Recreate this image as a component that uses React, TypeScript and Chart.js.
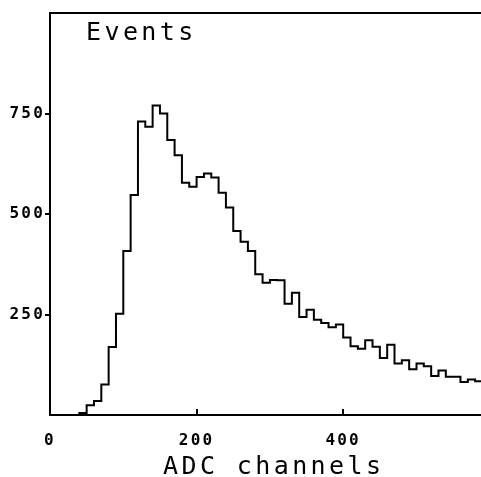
import { useEffect, useRef } from "react";
import { Chart, registerables } from "chart.js";

Chart.register(...registerables);

// Histogram of ADC channel counts, 10 channels per bin starting at channel 0
const BIN_WIDTH = 10;
const binCounts = [
  0, 0, 0, 0, 5, 24, 35, 76, 169, 252,
  408, 547, 730, 717, 770, 750, 684, 646, 578, 568,
  592, 601, 591, 553, 516, 458, 431, 408, 350, 329,
  336, 335, 277, 304, 244, 262, 237, 229, 218, 225,
  193, 171, 165, 186, 170, 142, 175, 128, 136, 114,
  128, 121, 97, 111, 95, 95, 82, 88, 84,
];

const xTickValues = [0, 200, 400];
const yTickValues = [250, 500, 750];
const X_MAX = 588;
const Y_MAX = 1000;

const yCaption = "Events";
const xCaption = "ADC channels";

const WIDTH = 481;
const HEIGHT = 477;

const TICK_FONT = { family: '"DejaVu Sans Mono", monospace', size: 16, weight: "bold" as const };
const CAPTION_FONT = '25px "DejaVu Sans Mono", monospace';

// Step outline: each bin's left edge carries its count, the last edge closes the final bin
function histogramPoints() {
  const pts = binCounts.map((c, i) => ({ x: i * BIN_WIDTH, y: c }));
  pts.push({ x: binCounts.length * BIN_WIDTH, y: binCounts[binCounts.length - 1] });
  return pts;
}

const plotterStyle = {
  id: "plotterStyle",
  beforeDraw(chart: Chart) {
    (chart.ctx as any).letterSpacing = "2.2px";
  },
  afterDraw(chart: Chart) {
    const { ctx, chartArea } = chart;
    const xScale = chart.scales.x;
    ctx.save();
    (ctx as any).letterSpacing = "0px";
    ctx.strokeStyle = "#000";
    ctx.lineWidth = 2;
    // top frame line
    ctx.beginPath();
    ctx.moveTo(chartArea.left - 1, chartArea.top);
    ctx.lineTo(chartArea.right, chartArea.top);
    ctx.stroke();
    // inward tick marks on the channel axis
    for (const v of xTickValues) {
      const px = Math.round(xScale.getPixelForValue(v));
      ctx.beginPath();
      ctx.moveTo(px, chartArea.bottom);
      ctx.lineTo(px, chartArea.bottom - 6);
      ctx.stroke();
    }
    // axis captions
    ctx.fillStyle = "#000";
    ctx.font = CAPTION_FONT;
    (ctx as any).letterSpacing = "3.4px";
    ctx.textBaseline = "alphabetic";
    ctx.textAlign = "left";
    ctx.fillText(yCaption, chartArea.left + 36, chartArea.top + 27);
    ctx.fillText(xCaption, chartArea.left + 113, HEIGHT - 3);
    ctx.restore();
    (ctx as any).letterSpacing = "0px";
  },
};

export default function App() {
  const canvasRef = useRef<HTMLCanvasElement | null>(null);

  useEffect(() => {
    document.body.style.margin = "0";
    const canvas = canvasRef.current;
    if (!canvas) return;
    const chart = new Chart(canvas, {
      type: "line",
      data: {
        datasets: [
          {
            data: histogramPoints(),
            borderColor: "#000",
            borderWidth: 2,
            pointRadius: 0,
            stepped: "before",
            fill: false,
          },
        ],
      },
      options: {
        responsive: false,
        animation: false,
        devicePixelRatio: 1,
        layout: { padding: { top: 13, right: 0, bottom: 0, left: 0 } },
        plugins: { legend: { display: false }, tooltip: { enabled: false } },
        scales: {
          x: {
            type: "linear",
            min: 0,
            max: X_MAX,
            afterBuildTicks: (s: any) => {
              s.ticks = xTickValues.map((v) => ({ value: v }));
            },
            afterFit: (s: any) => {
              s.height = 62;
            },
            grid: { display: false },
            border: { display: true, color: "#000", width: 2 },
            ticks: {
              color: "#000",
              font: TICK_FONT,
              padding: 8,
              maxRotation: 0,
              autoSkip: false,
            },
          },
          y: {
            type: "linear",
            min: 0,
            max: Y_MAX,
            afterBuildTicks: (s: any) => {
              s.ticks = yTickValues.map((v) => ({ value: v }));
            },
            afterFit: (s: any) => {
              s.width = 50;
            },
            grid: {
              drawOnChartArea: false,
              drawTicks: true,
              tickLength: 5,
              color: "#000",
              lineWidth: 2,
            },
            border: { display: true, color: "#000", width: 2 },
            ticks: {
              color: "#000",
              font: TICK_FONT,
              padding: 0,
              autoSkip: false,
            },
          },
        },
      },
      plugins: [plotterStyle],
    });
    return () => chart.destroy();
  }, []);

  return (
    <div style={{ width: WIDTH, height: HEIGHT, background: "#fff" }}>
      <canvas ref={canvasRef} width={WIDTH} height={HEIGHT} />
    </div>
  );
}
